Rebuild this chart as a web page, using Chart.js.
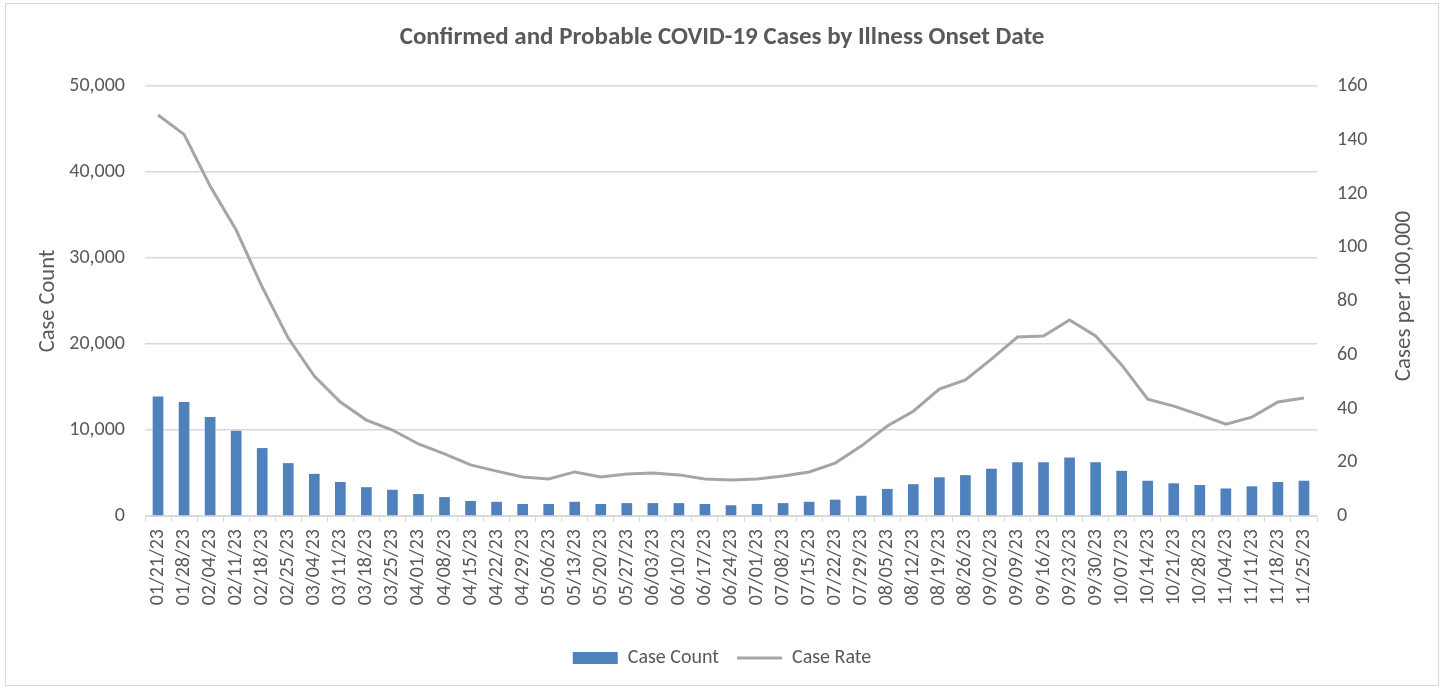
<!DOCTYPE html>
<html>
<head>
<meta charset="utf-8">
<script src="https://cdn.jsdelivr.net/npm/chart.js@4"></script>
<style>
  html, body { margin: 0; padding: 0; background: #fff; }
  #wrap { position: absolute; left: 5px; top: 3px; width: 1434px; height: 683px; border: 1px solid #d9d9d9; box-sizing: border-box; }
</style>
</head>
<body>
<div id="wrap"><canvas id="chart"></canvas></div>
<script>
const weeks = ['01/21/23','01/28/23','02/04/23','02/11/23','02/18/23','02/25/23','03/04/23','03/11/23',
  '03/18/23','03/25/23','04/01/23','04/08/23','04/15/23','04/22/23','04/29/23','05/06/23','05/13/23',
  '05/20/23','05/27/23','06/03/23','06/10/23','06/17/23','06/24/23','07/01/23','07/08/23','07/15/23',
  '07/22/23','07/29/23','08/05/23','08/12/23','08/19/23','08/26/23','09/02/23','09/09/23','09/16/23',
  '09/23/23','09/30/23','10/07/23','10/14/23','10/21/23','10/28/23','11/04/23','11/11/23','11/18/23','11/25/23'];

const caseCount = [13900, 13250, 11500, 9900, 7900, 6150, 4900, 3950, 3350, 3050, 2550, 2200, 1750, 1650,
  1400, 1400, 1650, 1400, 1500, 1500, 1500, 1400, 1250, 1400, 1500, 1650, 1900, 2350, 3150, 3700, 4500,
  4750, 5500, 6250, 6250, 6800, 6250, 5250, 4100, 3800, 3600, 3200, 3450, 3950, 4100];

const caseRate = [149.2, 142.0, 122.8, 106.4, 85.2, 66.2, 52.1, 42.4, 35.7, 32.0, 26.8, 23.1, 19.0, 16.7,
  14.5, 13.8, 16.4, 14.5, 15.6, 16.0, 15.3, 13.8, 13.4, 13.8, 14.9, 16.4, 19.7, 26.0, 33.5, 39.0, 47.2,
  50.6, 58.4, 66.6, 67.0, 72.9, 67.0, 56.2, 43.5, 40.9, 37.6, 34.2, 36.8, 42.4, 43.9];

const countTicks = [0, 10000, 20000, 30000, 40000, 50000];
const rateTicks = [0, 20, 40, 60, 80, 100, 120, 140, 160];

const FONT = 'Carlito, Lato, "Open Sans", sans-serif';
const GREY = '#595959';

// right axis title drawn bottom-to-top like the original
const rightTitle = {
  id: 'rightTitle',
  afterDraw(chart) {
    const { ctx, chartArea } = chart;
    ctx.save();
    ctx.font = '23px ' + FONT;
    ctx.fillStyle = GREY;
    ctx.textAlign = 'center';
    ctx.textBaseline = 'middle';
    ctx.translate(chartArea.right + 87, (chartArea.top + chartArea.bottom) / 2 - 5);
    ctx.rotate(-Math.PI / 2);
    ctx.fillText('Cases per 100,000', 0, 0);
    ctx.restore();
  }
};

new Chart(document.getElementById('chart'), {
  data: {
    labels: weeks,
    datasets: [
      {
        type: 'bar',
        label: 'Case Count',
        data: caseCount,
        yAxisID: 'y',
        backgroundColor: '#4f81bd',
        borderWidth: 0,
        categoryPercentage: 1,
        barPercentage: 0.41,
        order: 2
      },
      {
        type: 'line',
        label: 'Case Rate',
        data: caseRate,
        yAxisID: 'y1',
        borderColor: '#a5a5a5',
        backgroundColor: '#a5a5a5',
        borderWidth: 3,
        pointRadius: 0,
        tension: 0,
        order: 1
      }
    ]
  },
  options: {
    responsive: true,
    maintainAspectRatio: false,
    animation: false,
    layout: { padding: { top: 0, left: 0, right: 0, bottom: 7 } },
    plugins: {
      title: {
        display: true,
        text: 'Confirmed and Probable COVID-19 Cases by Illness Onset Date',
        color: GREY,
        font: { family: FONT, size: 25, weight: 'bold' },
        padding: { top: 19, bottom: 33 }
      },
      legend: {
        position: 'bottom',
        labels: {
          usePointStyle: true,
          pointStyleWidth: 45,
          boxHeight: 12,
          color: GREY,
          font: { family: FONT, size: 20 },
          padding: 18,
          generateLabels(chart) {
            const items = Chart.defaults.plugins.legend.labels.generateLabels(chart);
            items.sort((a, b) => a.datasetIndex - b.datasetIndex);
            items.forEach(it => { it.pointStyle = it.datasetIndex === 0 ? 'rect' : 'line'; });
            return items;
          }
        }
      },
      tooltip: { enabled: false }
    },
    scales: {
      x: {
        afterFit(scale) { scale.height = 114; },
        grid: { offset: true, drawOnChartArea: false, drawTicks: true, tickLength: 6, color: '#d9d9d9' },
        border: { color: '#d9d9d9' },
        ticks: {
          autoSkip: false, minRotation: 90, maxRotation: 90,
          color: GREY, font: { family: FONT, size: 20 }, padding: 7
        }
      },
      y: {
        position: 'left',
        min: 0,
        max: 50000,
        afterFit(scale) { scale.width = 139; },
        afterBuildTicks(scale) { scale.ticks = countTicks.map(v => ({ value: v })); },
        grid: { color: '#d9d9d9', drawTicks: false, lineWidth: 1.5 },
        border: { display: false },
        ticks: {
          color: GREY, font: { family: FONT, size: 20 }, padding: 20,
          callback: v => v.toLocaleString('en-US')
        },
        title: { display: true, text: 'Case Count', color: GREY, font: { family: FONT, size: 22.5 }, padding: { top: 29, bottom: 8 } }
      },
      y1: {
        position: 'right',
        min: 0,
        max: 160,
        afterFit(scale) { scale.width = 121; },
        afterBuildTicks(scale) { scale.ticks = rateTicks.map(v => ({ value: v })); },
        grid: { drawOnChartArea: false, drawTicks: false },
        border: { display: false },
        ticks: { color: GREY, font: { family: FONT, size: 20 }, padding: 20 }
      }
    }
  },
  plugins: [rightTitle]
});
</script>
</body>
</html>
